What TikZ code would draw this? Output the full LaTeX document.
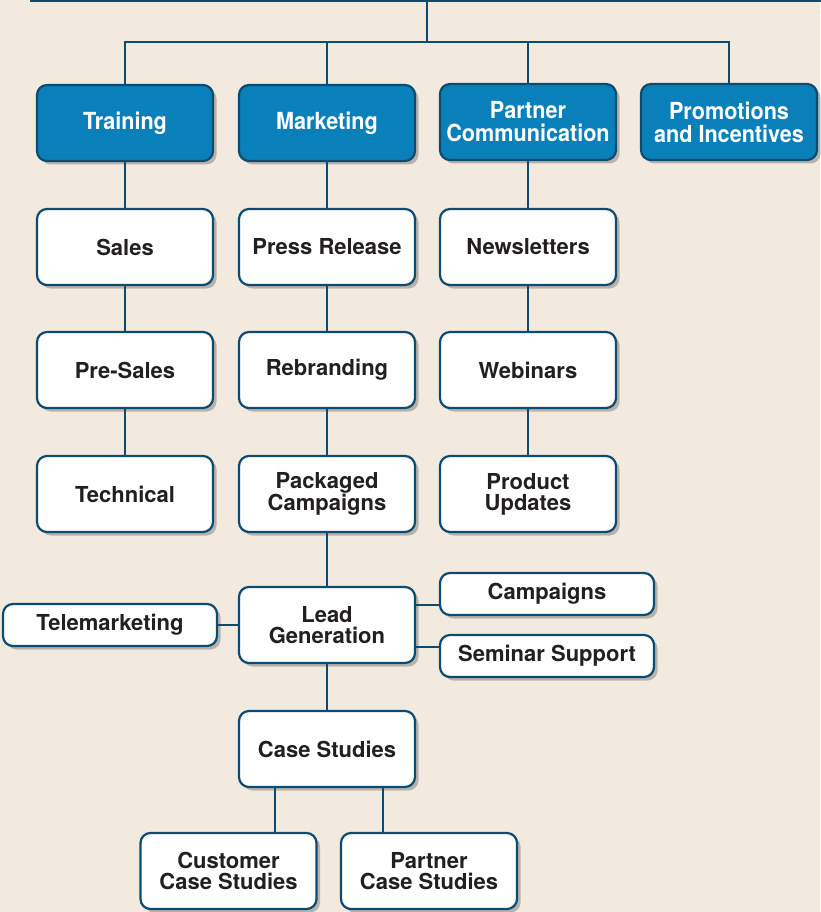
\documentclass[tikz,border=0pt]{standalone}
\usepackage{fontspec}
\setmainfont{TeX Gyre Heros}
\newfontfamily\headfont[FakeStretch=0.92]{TeX Gyre Heros}
\usetikzlibrary{shadows}
\definecolor{bgbeige}{HTML}{F2EADF}
\definecolor{headblue}{HTML}{0A80BA}
\definecolor{edgeblue}{HTML}{0E4B70}
\definecolor{textdark}{HTML}{231F20}

\tikzset{
  box/.style={draw=edgeblue, line width=2.2pt, rounded corners=10pt, fill=white,
    minimum width=176pt, minimum height=76pt, inner sep=0pt, align=center,
    text=textdark, font=\bfseries\fontsize{22}{21}\selectfont,
    drop shadow={shadow xshift=3.5pt, shadow yshift=-3.5pt, opacity=0.35, fill=black!70}},
  head/.style={box, fill=headblue, text=white, font=\headfont\bfseries\fontsize{23.5}{23}\selectfont},
  sidebox/.style={box, minimum width=214pt, minimum height=42pt},
  link/.style={draw=edgeblue, line width=2pt}
}

\begin{document}
\begin{tikzpicture}[x=1pt,y=-1pt]
\fill[bgbeige] (0,0) rectangle (820,912);
\useasboundingbox (0,0) rectangle (820,912);

%oberste Ebene (abgeschnitten)
\coordinate (rootL) at (30,1);
\coordinate (rootR) at (822,1);
\coordinate (rootM) at (427,1);
\coordinate (bus) at (427,42);
\draw[link] (rootL) -- (rootR);

%Bereiche
\node[head] (train)   at (125,123) {Training};
\node[head] (mark)    at (327,123) {Marketing};
\node[head] (partner) at (528,122) {Partner\\Communication};
\node[head] (promo)   at (729,122) {Promotions\\and Incentives};

%Training
\node[box] (sales)    at (125,247) {Sales};
\node[box] (presales) at (125,370) {Pre-Sales};
\node[box] (tech)     at (125,494) {Technical};

%Marketing
\node[box] (press)    at (327,247) {Press Release};
\node[box] (rebrand)  at (327,370) {Rebranding};
\node[box] (packaged) at (327,494) {Packaged\\Campaigns};
\node[box] (lead)     at (327,625) {Lead\\Generation};
\node[box] (cases)    at (327,749) {Case Studies};
\node[box] (custcase) at (228.5,871) {Customer\\Case Studies};
\node[box] (partcase) at (429,871) {Partner\\Case Studies};

%Lead Generation seitlich
\node[sidebox] (tele)    at (110,625) {Telemarketing};
\node[sidebox] (camp)    at (547,594) {Campaigns};
\node[sidebox] (seminar) at (547,656) {Seminar Support};

%Partner Communication
\node[box] (news)    at (528,247) {Newsletters};
\node[box] (webinar) at (528,370) {Webinars};
\node[box] (updates) at (528,494) {Product\\Updates};

%Verbindungen oben
\draw[link] (rootM) -- (bus);
\draw[link] (bus) -| (train.north);
\draw[link] (bus) -| (mark.north);
\draw[link] (bus) -| (partner.north);
\draw[link] (bus) -| (promo.north);

%Spalten
\draw[link] (train.south) -- (sales.north);
\draw[link] (sales.south) -- (presales.north);
\draw[link] (presales.south) -- (tech.north);
\draw[link] (mark.south) -- (press.north);
\draw[link] (press.south) -- (rebrand.north);
\draw[link] (rebrand.south) -- (packaged.north);
\draw[link] (packaged.south) -- (lead.north);
\draw[link] (lead.south) -- (cases.north);
\draw[link] (partner.south) -- (news.north);
\draw[link] (news.south) -- (webinar.north);
\draw[link] (webinar.south) -- (updates.north);

%seitliche Verbindungen
\draw[link] (tele.east) -- (lead.west);
\draw[link] (lead.east |- 0,605) -- (camp.west |- 0,605);
\draw[link] (lead.east |- 0,647) -- (seminar.west |- 0,647);
\draw[link] (cases.south -| 275,0) -- (custcase.north -| 275,0);
\draw[link] (cases.south -| 383,0) -- (partcase.north -| 383,0);
\end{tikzpicture}
\end{document}
